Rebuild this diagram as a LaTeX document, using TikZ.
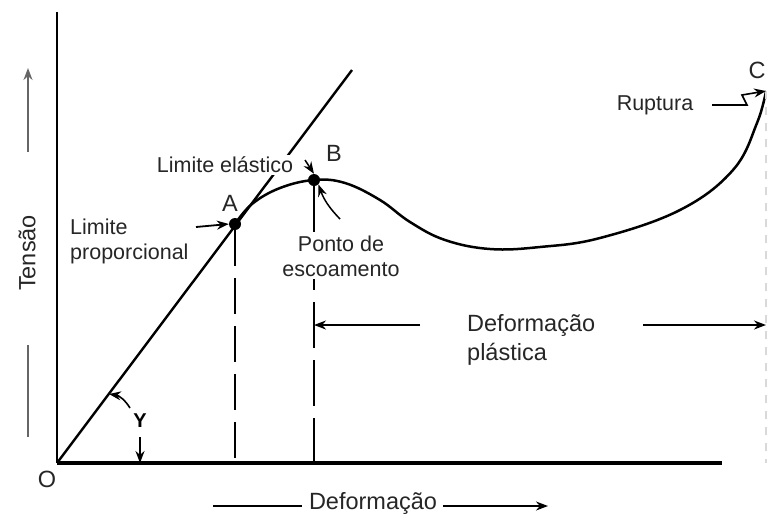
\documentclass[tikz,border=0pt]{standalone}
\usepackage{fontspec}
\setmainfont{Liberation Sans}
\usetikzlibrary{arrows.meta}
\begin{document}
\begin{tikzpicture}[x=1pt,y=-1pt,
    lbl/.style={text=black!85, font=\fontsize{21.5}{25}\selectfont, inner sep=0pt},
    big/.style={text=black!85, font=\fontsize{23.5}{29}\selectfont, inner sep=0pt},
    pt/.style={circle, fill=black, inner sep=0pt, minimum size=12pt},
    tip/.style={-{Stealth[length=12pt,width=9pt]}, line width=1.8pt}]
  \useasboundingbox (0,0) rectangle (767,520);
  \clip (0,0) rectangle (767,520);
  % eixos
  \coordinate (O) at (57,463);
  \coordinate (ytop) at (57,12);
  \coordinate (xend) at (722,463);
  \draw[line width=2.2pt] (ytop) -- (O);
  \draw[line width=3.2pt] (O) -- (xend);
  \node[big] (Olab) at (47,479) {O};
  % reta elastica e curva
  \coordinate (E) at (352,70);
  \coordinate (C) at (766,91);
  \draw[line width=2.4pt] (O) -- (E);
  \draw[line width=2.5pt] plot[smooth, tension=0.65] coordinates {(235,224) (252,204) (280,188)
      (314,180) (345,183) (380,200) (410,222) (445,240) (490,249) (540,247) (600,238)
      (680,210) (733,170) (757,123) (766,91)};
  \node[pt] (A) at (235,224) {};
  \node[pt] (B) at (314,180) {};
  \draw[line width=2.4pt, dash pattern=on 36pt off 12pt] (A) -- (A |- O);
  \draw[line width=2.4pt, dash pattern=on 46pt off 12pt] (B) -- (B |- O);
  \draw[gray!30, line width=1.4pt, dash pattern=on 8pt off 8pt] (C) -- (C |- O);
  \node[big] (Alab) at (230,203) {A};
  \node[big] (Blab) at (334,153) {B};
  \node[big] (Clab) at (757,70) {C};
  % rotulos
  \node[lbl, align=left, anchor=west] (lprop) at (70,241) {Limite\\proporcional};
  \coordinate (pa) at (196,227);
  \draw[tip] (pa) -- (A.west);
  \node[lbl, fill=white, inner sep=2pt] (lelas) at (225,165) {Limite elástico};
  \coordinate (pe) at (305,160);
  \draw[tip, line width=1.5pt] (pe) -- (B.north);
  \node[lbl, align=center, fill=white, inner sep=3pt] (pesc) at (341,256) {Ponto de\\escoamento};
  \coordinate (pp) at (340,219);
  \draw[tip, line width=1.5pt] (pp) to[bend left=12] (B.south east);
  \node[lbl] (rup) at (655,105) {Ruptura};
  \coordinate (pr) at (712,105);
  \draw[tip, line width=1.6pt] (pr) -- (747,105) -- (742,95) -- (C);
  % deformacao plastica
  \node[big, align=left, anchor=west] (dplas) at (467,340) {Deformação\\plástica};
  \coordinate (dl) at (420,325);
  \coordinate (dr) at (643,325);
  \draw[tip] (dl) -- (B |- dl);
  \draw[tip] (dr) -- (C |- dr);
  % angulo
  \node[font=\bfseries\fontsize{20}{23}\selectfont, inner sep=0pt] (ylab) at (140,421) {Y};
  \coordinate (ya) at (130,408);
  \coordinate (yb) at (140,437);
  \draw[tip, line width=1.6pt] (ya) to[bend right=25] (109,394);
  \draw[tip, line width=1.6pt] (yb) -- (yb |- O);
  % eixos: textos
  \node[big, rotate=90] (ten) at (27,253) {Tensão};
  \coordinate (t1) at (28,152);
  \coordinate (t2) at (28,345);
  \draw[tip, black!60] (t1) -- (28,68);
  \draw[black!60, line width=1.8pt] (t2) -- (28,437);
  \node[big] (def) at (373,503) {Deformação};
  \coordinate (bl) at (213,506);
  \coordinate (br) at (548,506);
  \draw[line width=1.8pt] (bl) -- (302,506);
  \draw[tip] (443,506) -- (br);
\end{tikzpicture}
\end{document}
